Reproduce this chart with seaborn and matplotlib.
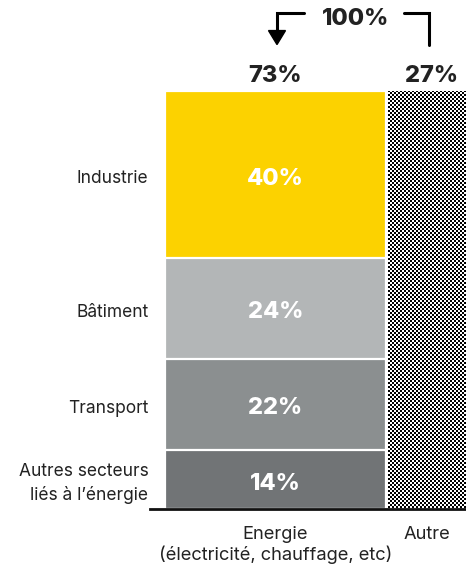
import numpy as np
import pandas as pd
import matplotlib
matplotlib.use("Agg")
import matplotlib.pyplot as plt
import matplotlib.transforms as mtransforms
import seaborn as sns

# ---- data ----
groups = ["Energie", "Autre"]
group_labels = ["Energie\n(électricité, chauffage, etc)", "Autre"]
group_totals = [73, 27]
sectors = ["Industrie", "Bâtiment", "Transport", "Autres secteurs\nliés à l’énergie"]
sector_shares = [40, 24, 22, 14]
sector_colors = ["#FCD200", "#B3B6B7", "#8B8F90", "#717476"]
total_label = "100%"

sns.set_theme(style="white")
plt.rcParams["font.family"] = ["Inter", "DejaVu Sans"]

W, H = 466, 564
fig = plt.figure(figsize=(W / 100, H / 100), dpi=100)
ax = fig.add_axes([150 / W, 55 / H, 316 / W, 418 / H])

def fx(x, y):
    return (x / W, 1 - y / H)

# stacked energy bar: draw cumulative heights from tallest to shortest
shares_bottom_up = sector_shares[::-1]
cum_bottom_up = np.cumsum(shares_bottom_up)
cum_top_down = cum_bottom_up[::-1]
for val, col in zip(cum_top_down, sector_colors):
    df = pd.DataFrame({"g": [groups[0]], "v": [val]})
    sns.barplot(data=df, x="g", y="v", order=groups, color=col, width=1.46,
                edgecolor="white", linewidth=1.6, saturation=1, ax=ax)

# other bar
df = pd.DataFrame({"g": [groups[1]], "v": [100]})
sns.barplot(data=df, x="g", y="v", order=groups, color="white", width=0.53,
            edgecolor="white", linewidth=0, saturation=1, ax=ax)
other_patch = ax.patches[-1]

ax.set_xlim(-0.828, 1.258)
ax.set_ylim(0, 100)

# pixel-exact checkerboard texture on the "Autre" bar
fig.canvas.draw()
bb = other_patch.get_window_extent()
px0 = int(np.ceil(bb.x0)) + 1
py0 = int(np.ceil(bb.y0)) + 1
px1 = min(int(np.floor(bb.x1)), W)
py1 = int(np.floor(bb.y1))
nw, nh = px1 - px0, py1 - py0
cell = 2
yy, xx = np.indices((nh, nw))
cb = (((yy // cell) + (xx // cell)) % 2).astype(float)
rgb = np.stack([cb, cb, cb], axis=-1)
fig.figimage(rgb, xo=px0, yo=py0, origin="lower", zorder=3)

# segment labels (slight downward offset to match visual centring)
down = mtransforms.ScaledTranslation(0, -4 / 100, fig.dpi_scale_trans)
bottoms = np.concatenate([[0], cum_bottom_up[:-1]])[::-1]
for name, share, b in zip(sectors, sector_shares, bottoms):
    mid = b + share / 2
    ax.text(0, mid, f"{share}%", ha="center", va="center", color="white",
            fontsize=17, fontweight="heavy", zorder=5, transform=ax.transData + down)
    ax.text(-0.005, mid, name, transform=ax.get_yaxis_transform() + down, ha="right", va="center",
            color="#222222", fontsize=12.5, linespacing=1.45)

# group totals
for i, t in enumerate(group_totals):
    xx_ = i if i == 0 else 1.03
    ax.text(xx_, 103.5, f"{t}%", ha="center", va="center", color="#222222",
            fontsize=17, fontweight="heavy", clip_on=False)

# 100% with bracket arrows
fig.text(*fx(356, 19), total_label, ha="center", va="center", color="#222222",
         fontsize=17, fontweight="heavy")
fig.add_artist(plt.Line2D([fx(304, 13)[0], fx(277, 13)[0], fx(277, 13)[0]],
                          [fx(304, 13)[1], fx(277, 13)[1], fx(277, 32)[1]],
                          transform=fig.transFigure, color="black", lw=2.2, solid_joinstyle="miter"))
fig.add_artist(matplotlib.patches.FancyArrow(fx(277, 30)[0], fx(277, 30)[1], 0, -0.001,
                                             width=0, head_width=17 / W, head_length=14 / H,
                                             length_includes_head=False, color="black",
                                             transform=fig.transFigure))
fig.add_artist(plt.Line2D([fx(404, 13)[0], fx(429, 13)[0], fx(429, 13)[0]],
                          [fx(404, 13)[1], fx(429, 13)[1], fx(429, 45)[1]],
                          transform=fig.transFigure, color="black", lw=2.2, solid_joinstyle="miter"))

# axes styling
sns.despine(ax=ax, left=True, top=True, right=True)
ax.spines["bottom"].set_color("#111111")
ax.spines["bottom"].set_linewidth(2)
ax.set_yticks([])
ax.set_xticks([0, 1])
ax.set_xticklabels(group_labels, fontsize=13.2, color="#222222", linespacing=1.2)
ax.tick_params(axis="x", length=0, pad=12)
ax.set_xlabel("")
ax.set_ylabel("")

fig.savefig("out.png", dpi=100)
